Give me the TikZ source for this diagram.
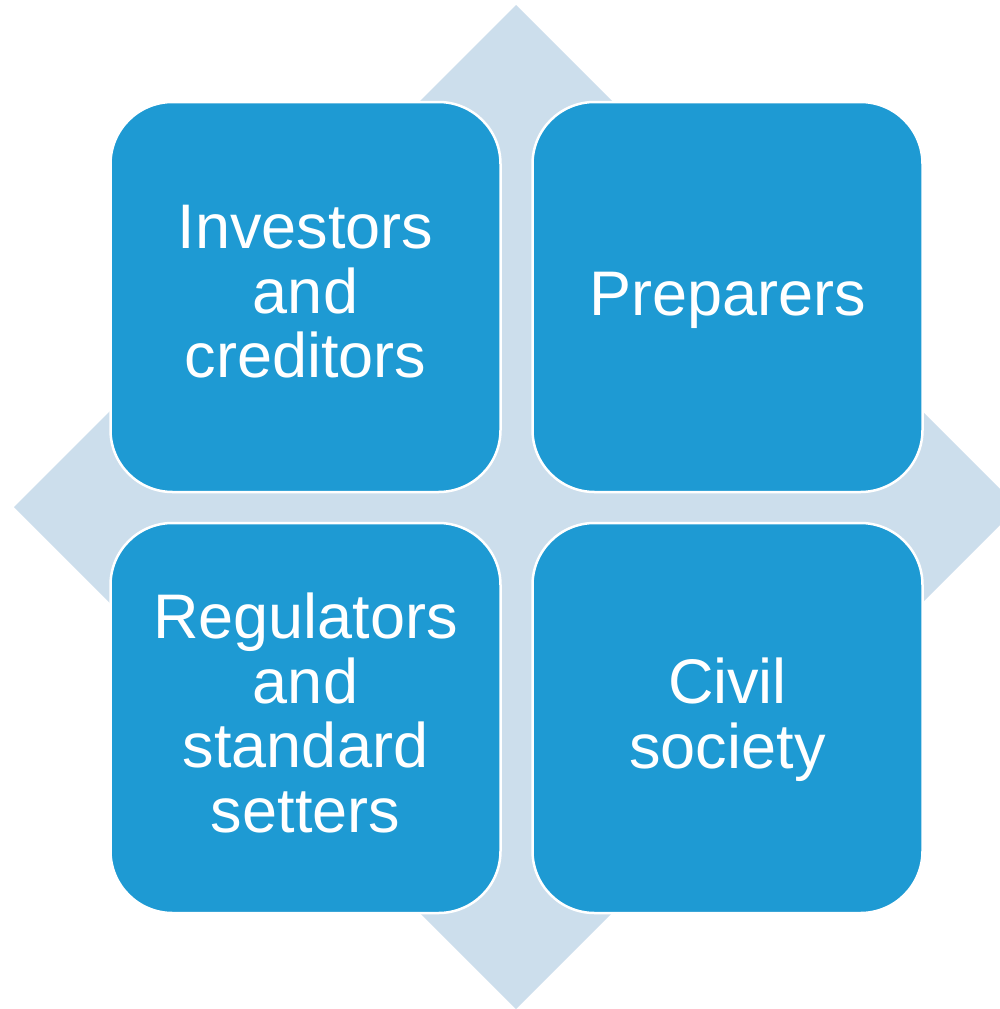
\documentclass[tikz,border=0pt]{standalone}
\usepackage{fontspec}
\setmainfont{Liberation Sans}
\definecolor{boxblue}{RGB}{30,154,211}
\definecolor{diamondblue}{RGB}{204,222,236}
\newcommand{\capstrut}{\rule{0pt}{46pt}}
\tikzset{
  stakebox/.style={draw=white, line width=2.5pt, fill=boxblue, rounded corners=62pt,
    minimum width=390pt, minimum height=390pt, inner sep=0pt},
  staketext/.style={anchor=north, inner sep=0pt, text=white, align=center,
    font=\fontsize{63}{64.5}\selectfont},
  backdiamond/.style={fill=diamondblue, draw=none}
}
\begin{document}
\begin{tikzpicture}[x=1pt,y=-1pt]
\clip (0,0) rectangle (1000,1009);
\fill[white] (0,0) rectangle (1000,1009);
\fill[backdiamond] (516,5) -- (1018,507) -- (516,1009) -- (14,507) -- cycle;
\node[stakebox] (invbox) at (305.5,297) {};
\node[stakebox] (prepbox) at (727.5,297) {};
\node[stakebox] (regbox) at (305.5,718) {};
\node[stakebox] (civbox) at (727.5,718) {};
\node[staketext] (inv) at ([yshift=-102pt]invbox.north) {\capstrut Investors\\and\\creditors};
\node[staketext] (prep) at ([yshift=-169pt]prepbox.north) {\capstrut Preparers};
\node[staketext] (reg) at ([yshift=-71pt]regbox.north) {\capstrut Regulators\\and\\standard\\setters};
\node[staketext] (civ) at ([yshift=-136pt]civbox.north) {\capstrut Civil\\society};
\end{tikzpicture}
\end{document}
